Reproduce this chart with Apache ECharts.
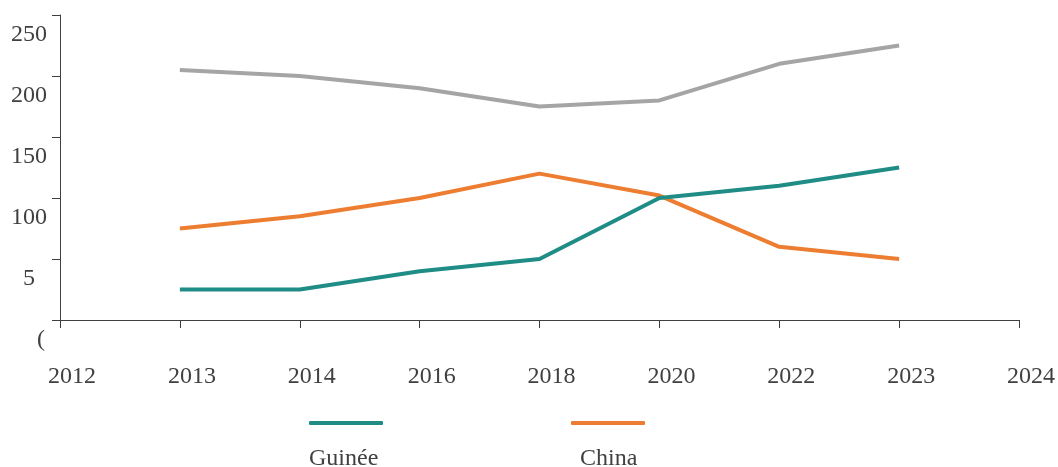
<!DOCTYPE html>
<html>
<head>
<meta charset="utf-8">
<script src="https://cdn.jsdelivr.net/npm/echarts@6/dist/echarts.min.js"></script>
<style>
    html, body { margin: 0; padding: 0; background: #fff; }
    #main { width: 1058px; height: 467px; }
</style>
</head>
<body>
<div id="main"></div>
<script>
var years = ['2012', '2013', '2014', '2016', '2018', '2020', '2022', '2023', '2024'];
var guinee = [null, 25, 25, 40, 50, 100, 110, 125, null];
var china = [null, 75, 85, 100, 120, 102, 60, 50, null];
var total = [null, 205, 200, 190, 175, 180, 210, 225, null];
// the y labels are clipped in the original, keep them as they show
var yLabels = {0: '{z|(}', 50: '{f|5}', 100: '{n|100}', 150: '{n|150}', 200: '{n|200}', 250: '{n|250}'};

var serif = '"Liberation Serif", "DejaVu Serif", serif';
var textColor = '#404040';

var myChart = echarts.init(document.getElementById('main'));

var option = {
    animation: false,
    grid: { left: 60, right: 38, top: 15, bottom: 147 },
    legend: [
        {
            // line icons only
            data: ['Guinée', 'China'],
            left: 304, top: 416,
            icon: 'roundRect',
            itemWidth: 74, itemHeight: 4, itemGap: 188,
            selectedMode: false,
            formatter: function () { return ''; }
        },
        {
            data: [{name: 'Guinée', icon: 'none'}],
            left: 299, top: 442,
            itemWidth: 0, itemHeight: 0,
            selectedMode: false,
            textStyle: { fontFamily: serif, fontSize: 24, color: textColor }
        },
        {
            data: [{name: 'China', icon: 'none'}],
            left: 570, top: 442,
            itemWidth: 0, itemHeight: 0,
            selectedMode: false,
            textStyle: { fontFamily: serif, fontSize: 24, color: textColor }
        }
    ],
    xAxis: {
        type: 'category',
        data: years,
        boundaryGap: false,
        axisLine: { lineStyle: { color: '#404040', width: 1 } },
        axisTick: { show: true, length: 8, alignWithLabel: true, lineStyle: { color: '#404040' } },
        axisLabel: {
            margin: 45, fontFamily: serif, fontSize: 24, color: textColor, interval: 0,
            padding: [0, 0, 0, 24]
        }
    },
    yAxis: {
        type: 'value',
        min: 0, max: 250, interval: 50,
        splitLine: { show: false },
        axisLine: { show: true, lineStyle: { color: '#404040', width: 1 } },
        axisTick: { show: true, length: 8, lineStyle: { color: '#404040' } },
        axisLabel: {
            margin: 13, fontFamily: serif, fontSize: 24, color: textColor,
            formatter: function (v) { return yLabels[v]; },
            rich: {
                n: { fontFamily: serif, fontSize: 24, color: textColor, padding: [39, 0, 0, 0] },
                f: { fontFamily: serif, fontSize: 24, color: textColor, padding: [39, 12, 0, 0] },
                z: { fontFamily: serif, fontSize: 24, color: textColor, padding: [39, 2, 0, 0] }
            }
        }
    },
    series: [
        {
            name: 'Total', type: 'line', data: total, symbol: 'none',
            lineStyle: { color: '#a5a5a5', width: 4 }, itemStyle: { color: '#a5a5a5' }
        },
        {
            name: 'China', type: 'line', data: china, symbol: 'none',
            lineStyle: { color: '#ed7d31', width: 4 }, itemStyle: { color: '#ed7d31' }
        },
        {
            name: 'Guinée', type: 'line', data: guinee, symbol: 'none',
            lineStyle: { color: '#1f8c85', width: 4 }, itemStyle: { color: '#1f8c85' }
        }
    ]
};
myChart.setOption(option);
</script>
</body>
</html>
